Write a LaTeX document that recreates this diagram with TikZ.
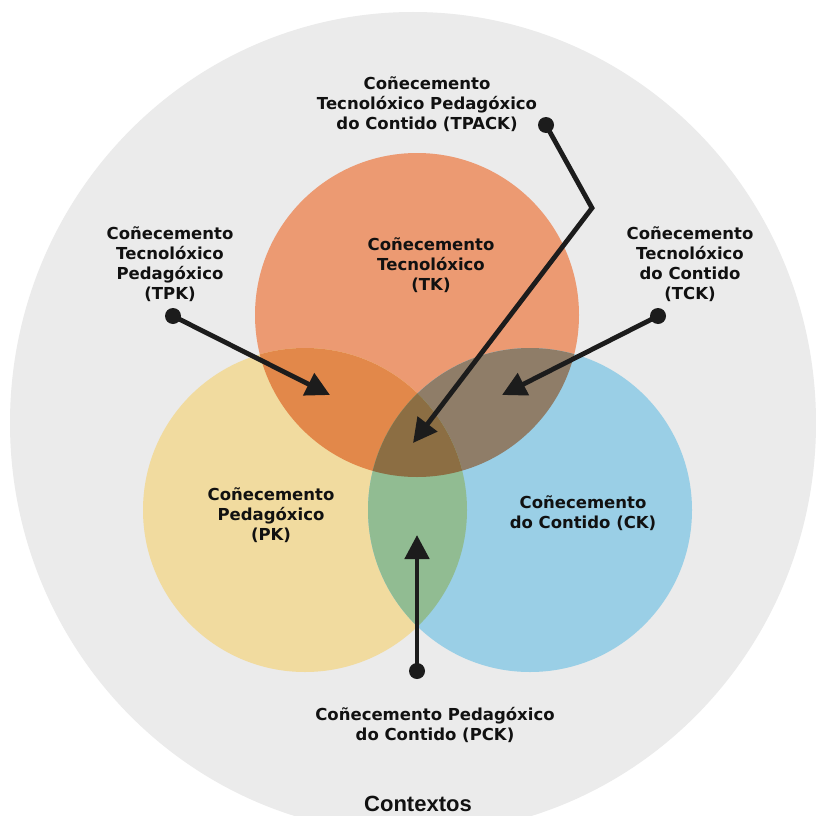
\documentclass[tikz,border=0pt]{standalone}
\usepackage{fontspec}
\setmainfont{DejaVu Sans}
\newfontfamily\ctxfont{Liberation Sans}
\usetikzlibrary{arrows.meta}
\definecolor{bggray}{HTML}{EBEBEB}
\definecolor{tkc}{HTML}{EC9A72}
\definecolor{pkc}{HTML}{F1DB9F}
\definecolor{ckc}{HTML}{9ACFE6}
\definecolor{tpkc}{HTML}{E2884A}
\definecolor{tckc}{HTML}{8F7D68}
\definecolor{pckc}{HTML}{91BC92}
\definecolor{allc}{HTML}{8C6E43}
\definecolor{arrowc}{HTML}{1C1C1C}
\definecolor{txtc}{HTML}{111111}
\begin{document}
\begin{tikzpicture}[x=1pt,y=-1pt,
  lbl/.style={align=center,font=\bfseries\fontsize{16.5}{20}\selectfont,text=txtc,inner sep=0pt},
  dot/.style={circle,fill=arrowc,minimum size=16pt,inner sep=0pt},
  arr/.style={line width=4.8pt,draw=arrowc,-{Triangle[length=24pt,width=24pt]}},
  ring/.style={radius=162pt}]
\useasboundingbox (0,0) rectangle (816,816);
\clip (0,0) rectangle (816,816);
\fill[white] (0,0) rectangle (816,816);
\fill[bggray] (413,423) ellipse [x radius=403pt, y radius=411pt];
% circle centres
\coordinate (T) at (417,315);
\coordinate (P) at (305,510);
\coordinate (C) at (530,510);
\fill[tkc] (T) circle[ring];
\fill[pkc] (P) circle[ring];
\fill[ckc] (C) circle[ring];
\begin{scope}\clip (T) circle[ring]; \fill[tpkc] (P) circle[ring];\end{scope}
\begin{scope}\clip (T) circle[ring]; \fill[tckc] (C) circle[ring];\end{scope}
\begin{scope}\clip (P) circle[ring]; \fill[pckc] (C) circle[ring];\end{scope}
\begin{scope}\clip (T) circle[ring]; \clip (P) circle[ring]; \fill[allc] (C) circle[ring];\end{scope}
% labels
\node[lbl] (lTK) at (431,265) {Coñecemento\\Tecnolóxico\\(TK)};
\node[lbl] (lPK) at (271,515) {Coñecemento\\Pedagóxico\\(PK)};
\node[lbl] (lCK) at (583,513) {Coñecemento\\do Contido (CK)};
\node[lbl] (lTPACK) at (427,104) {Coñecemento\\Tecnolóxico Pedagóxico\\do Contido (TPACK)};
\node[lbl] (lTPK) at (170,264) {Coñecemento\\Tecnolóxico\\Pedagóxico\\(TPK)};
\node[lbl] (lTCK) at (690,264) {Coñecemento\\Tecnolóxico\\do Contido\\(TCK)};
\node[lbl] (lPCK) at (435,725) {Coñecemento Pedagóxico\\do Contido (PCK)};
\node[font=\ctxfont\bfseries\fontsize{22}{26}\selectfont,text=txtc,anchor=base,inner sep=0pt] (ctx) at (418,811) {Contextos};
% arrows
\node[dot] (dTPK) at (173,316) {};
\node[dot] (dTCK) at (658,316) {};
\node[dot] (dTPACK) at (546,125) {};
\node[dot] (dPCK) at (417,671) {};
\coordinate (tTPK) at (330,395);
\coordinate (tTCK) at (502,395);
\coordinate (bTPACK) at (592,208);
\coordinate (tTPACK) at (413,443);
\coordinate (tPCK) at (417,535);
\draw[arr] (dTPK.center) -- (tTPK);
\draw[arr] (dTCK.center) -- (tTCK);
\draw[arr] (dTPACK.center) -- (bTPACK) -- (tTPACK);
\draw[arr] (dPCK.center) -- (tPCK);
\end{tikzpicture}
\end{document}
